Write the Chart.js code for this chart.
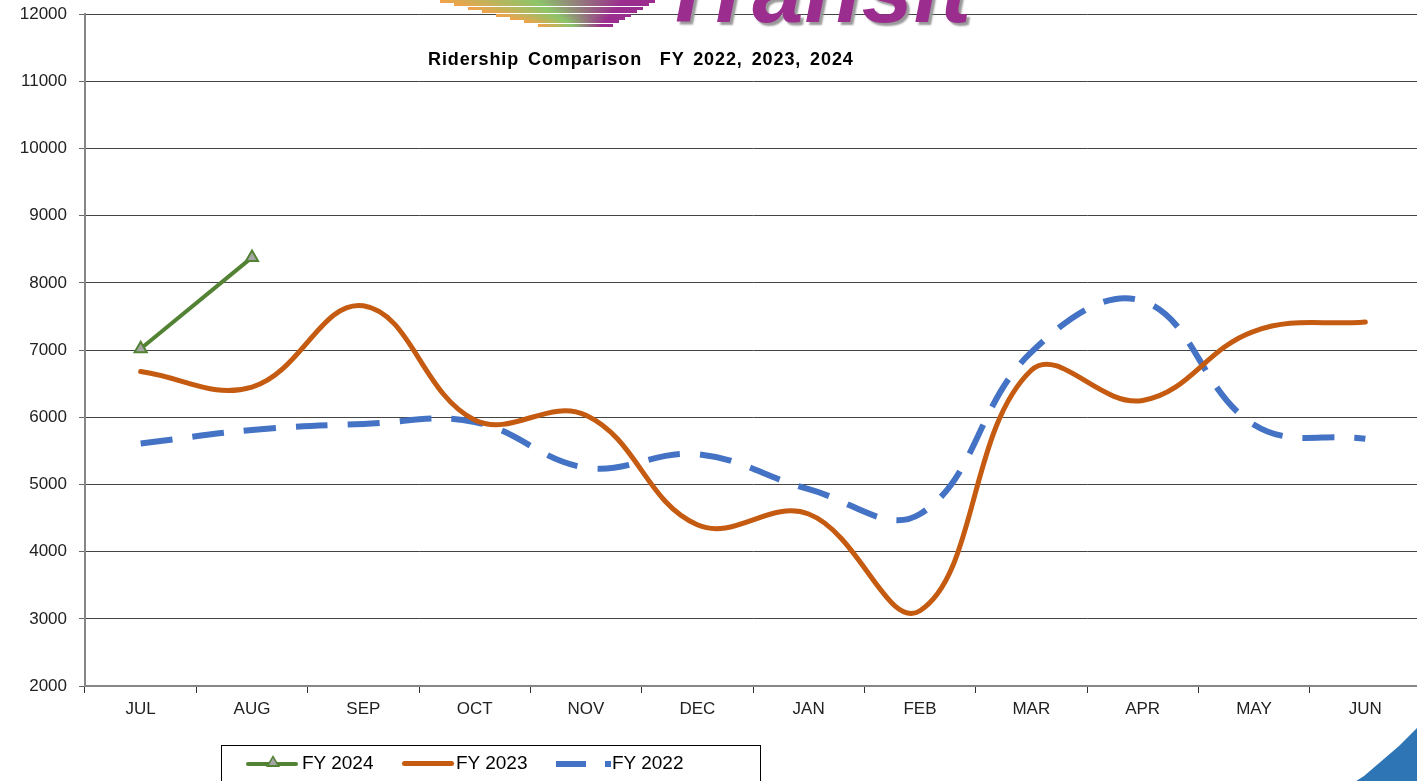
<!DOCTYPE html>
<html>
<head>
<meta charset="utf-8">
<script src="https://cdn.jsdelivr.net/npm/chart.js@4"></script>
<style>
  html, body { margin: 0; padding: 0; background: #fff; overflow: hidden; }
  body { width: 1417px; height: 781px; position: relative; font-family: "Liberation Sans", Arial, sans-serif; }
  #wrap { position: absolute; left: 0; top: -8px; width: 1430px; height: 789px; }
  #logo-text { position: absolute; left: 660px; top: -62px; font: italic bold 92px "Liberation Sans", Arial, sans-serif;
    color: #9b2d8e; letter-spacing: 1px; text-shadow: 3px 3px 2px #999; }
  .stripe { position: absolute; height: 3px; }
  #title { position: absolute; left: 428px; top: 49px; font-weight: bold; font-size: 18px; color: #000; letter-spacing: 0.9px; word-spacing: 3px; }
  #legend { position: absolute; left: 221px; top: 745px; width: 540px; height: 40px; border: 1.5px solid #000; box-sizing: border-box; }
  .lg { position: absolute; top: 6px; font-size: 19px; color: #000; }
  .ln { position: absolute; }
  #corner { position: absolute; left: 1350px; top: 725px; width: 70px; height: 60px; background: #2e75b6;
    clip-path: polygon(100% 0, 100% 100%, 0 100%, 20% 85%, 45% 60%, 70% 35%); }
</style>
</head>
<body>
<div id="wrap"><canvas id="chart" width="1430" height="789"></canvas></div>
<div id="logo"></div>
<div id="logo-text">Transit</div>
<div id="title">Ridership Comparison &nbsp;FY 2022, 2023, 2024</div>
<div id="legend">
  <div class="ln" style="left:24px;top:16px;width:52px;height:4px;background:#548235;border-radius:2px"></div>
  <div class="ln" style="left:44px;top:9px;width:0;height:0;border-left:7px solid transparent;border-right:7px solid transparent;border-bottom:12px solid #548235"></div>
  <div class="ln" style="left:47px;top:12px;width:0;height:0;border-left:4px solid transparent;border-right:4px solid transparent;border-bottom:7px solid #a5a5a5"></div>
  <div class="lg" style="left:80px">FY 2024</div>
  <div class="ln" style="left:180px;top:15px;width:52px;height:5px;background:#c55a11;border-radius:3px"></div>
  <div class="lg" style="left:234px">FY 2023</div>
  <div class="ln" style="left:334px;top:15px;width:30px;height:6px;background:#4472c4"></div>
  <div class="ln" style="left:383px;top:15px;width:6px;height:6px;background:#4472c4"></div>
  <div class="lg" style="left:390px">FY 2022</div>
</div>
<div id="corner"></div>
<script>
// Categories and series
const months = ['JUL', 'AUG', 'SEP', 'OCT', 'NOV', 'DEC', 'JAN', 'FEB', 'MAR', 'APR', 'MAY', 'JUN'];
const fy2024 = [7020, 8380, null, null, null, null, null, null, null, null, null, null];
const fy2023 = [6680, 6450, 7660, 5960, 6030, 4400, 4560, 3120, 6700, 6250, 7280, 7420];
const fy2022 = [5610, 5810, 5900, 5930, 5250, 5450, 4930, 4560, 6970, 7730, 5890, 5680];
const yTicks = [2000, 3000, 4000, 5000, 6000, 7000, 8000, 9000, 10000, 11000, 12000];

// logo stripes
const logo = document.getElementById('logo');
for (let i = 0; i < 8; i++) {
    const s = document.createElement('div');
    s.className = 'stripe';
    s.style.left = (440 + i * 14) + 'px';
    s.style.top = (i * 3.4) + 'px';
    s.style.width = (215 - i * 20) + 'px';
    s.style.background = 'linear-gradient(to right, #f2a24a, #8cc46a 45%, #9b2d8e 85%)';
    logo.appendChild(s);
}

const tickFont = { family: '"Liberation Sans", Arial, sans-serif', size: 17 };

new Chart(document.getElementById('chart'), {
    type: 'line',
    data: {
        labels: months,
        datasets: [{
            label: 'FY 2024',
            data: fy2024,
            borderColor: '#548235',
            borderWidth: 4,
            pointStyle: 'triangle',
            pointRadius: 7,
            pointBorderWidth: 2,
            pointBackgroundColor: '#a5a5a5',
            pointBorderColor: '#548235',
            tension: 0
        }, {
            label: 'FY 2023',
            data: fy2023,
            borderColor: '#c55a11',
            borderWidth: 5,
            borderCapStyle: 'round',
            pointRadius: 0,
            tension: 0.4
        }, {
            label: 'FY 2022',
            data: fy2022,
            borderColor: '#4472c4',
            borderWidth: 6,
            borderDash: [32, 20],
            pointRadius: 0,
            tension: 0.4
        }]
    },
    options: {
        responsive: false,
        animation: false,
        layout: { padding: { top: 6, right: 4, bottom: 55, left: 0 } },
        plugins: { legend: { display: false }, tooltip: { enabled: false } },
        scales: {
            x: {
                offset: true,
                afterFit: s => { s.height = 40; },
                grid: { offset: true, drawOnChartArea: false, drawTicks: true, tickLength: 7, tickColor: '#333' },
                border: { color: '#868686', width: 2 },
                ticks: { color: '#222', font: tickFont, padding: 6 }
            },
            y: {
                min: 2000,
                max: 12000,
                afterFit: s => { s.width = 85; },
                afterBuildTicks: s => { s.ticks = yTicks.map(v => ({ value: v })); },
                grid: { color: '#444', lineWidth: 1, tickLength: 6, tickColor: '#666' },
                border: { color: '#868686', width: 2 },
                ticks: { color: '#222', font: tickFont, padding: 12, callback: v => String(v) }
            }
        }
    }
});
</script>
</body>
</html>
